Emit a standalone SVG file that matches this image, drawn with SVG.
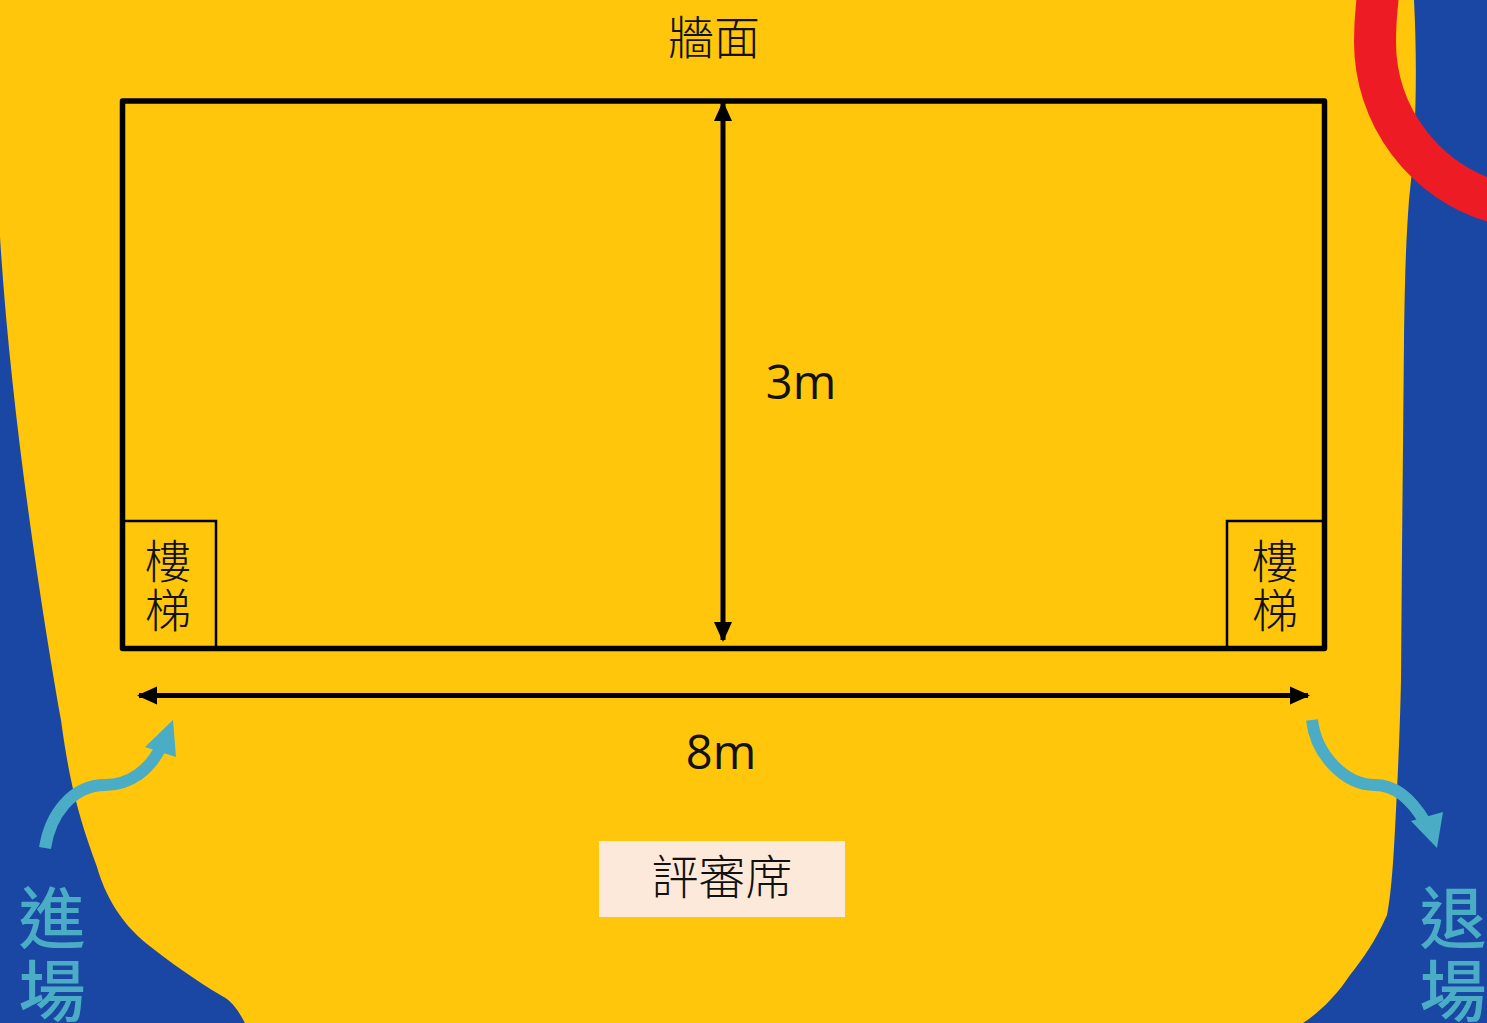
<svg xmlns="http://www.w3.org/2000/svg" width="1487" height="1023" viewBox="0 0 1487 1023">
<style>
.cjk{font-family:"Noto Sans CJK TC","Noto Sans CJK SC",sans-serif;font-weight:300;text-anchor:middle;fill:#111}
.lat{font-family:"Open Sans","Noto Sans",sans-serif;text-anchor:middle;fill:#111;font-size:47px}
.teal{font-size:67px;fill:#4BACC6;font-weight:500}
.dim{stroke:#000;stroke-width:5;fill:none;marker-start:url(#ah);marker-end:url(#ah)}
.flow{stroke:#4BACC6;stroke-width:12;fill:none}
</style>
<defs>
<marker id="ah" viewBox="0 0 20 20" refX="18" refY="10" markerWidth="20" markerHeight="20" markerUnits="userSpaceOnUse" orient="auto-start-reverse"><path d="M0 1L20 10L0 19z" fill="#000"/></marker>
</defs>
<rect width="1487" height="1023" fill="#1A47A4"/>
<path id="stage-ground" fill="#FFC60B" d="M0 0H1414C1417 60 1417 130 1409 200C1406 240 1405 270 1404 340L1402 550L1401 680C1400 730 1398 770 1396 810C1394 850 1392 890 1387 915C1375 942 1362 960 1350 975C1337 995 1320 1012 1303 1023H245C238 1010 232 1001 222 996C195 980 170 962 147 944C120 922 105 895 97 867C85 835 76 805 70 775C66 755 63 735 61 720C38 590 10 400 0 237Z"/>
<path id="red-ring" d="M1378 -5Q1375 20 1375 42A167 167 0 0 0 1495 202" fill="none" stroke="#ED1C24" stroke-width="42"/>
<g id="stage"><rect x="122.500" y="101" width="1202" height="547.500" fill="none" stroke="#000" stroke-width="5.500" stroke-linejoin="round"/></g>
<g id="stairs-left"><path d="M124 521H216V647" fill="none" stroke="#000" stroke-width="2.500"/>
<text class="cjk" font-size="46" x="168" y="578">樓</text><text class="cjk" font-size="46" x="168" y="627">梯</text></g>
<g id="stairs-right"><path d="M1323 521H1227V647" fill="none" stroke="#000" stroke-width="2.500"/>
<text class="cjk" font-size="46" x="1275" y="578">樓</text><text class="cjk" font-size="46" x="1275" y="627">梯</text></g>
<g id="wall-label"><text class="cjk" font-size="46" x="714" y="54">牆面</text></g>
<g id="judges"><rect x="599" y="841" width="246" height="76" fill="#FDE9D9"/><text class="cjk" font-size="47" x="722" y="894">評審席</text></g>
<g id="height-label"><text class="lat" x="801" y="399">3m</text></g>
<g id="width-label"><text class="lat" x="721" y="769">8m</text></g>
<g id="enter-label"><text class="cjk teal" x="52" y="943">進</text><text class="cjk teal" x="52" y="1016">場</text></g>
<g id="exit-label"><text class="cjk teal" x="1453" y="943">退</text><text class="cjk teal" x="1453" y="1016">場</text></g>
<g id="connectors">
<path class="dim" d="M723 103V640"/>
<path class="dim" d="M139 695.500H1308"/>
<path class="flow" d="M45 848C50 815 72 785 105 785C130 785 150 770 162 745"/>
<path d="M173 720L145 747L176 757z" fill="#4BACC6"/>
<path class="flow" d="M1312 720C1316 755 1345 785 1375 785C1395 785 1412 800 1425 822"/>
<path d="M1437 848L1411 821L1443 812z" fill="#4BACC6"/>
</g>
</svg>
